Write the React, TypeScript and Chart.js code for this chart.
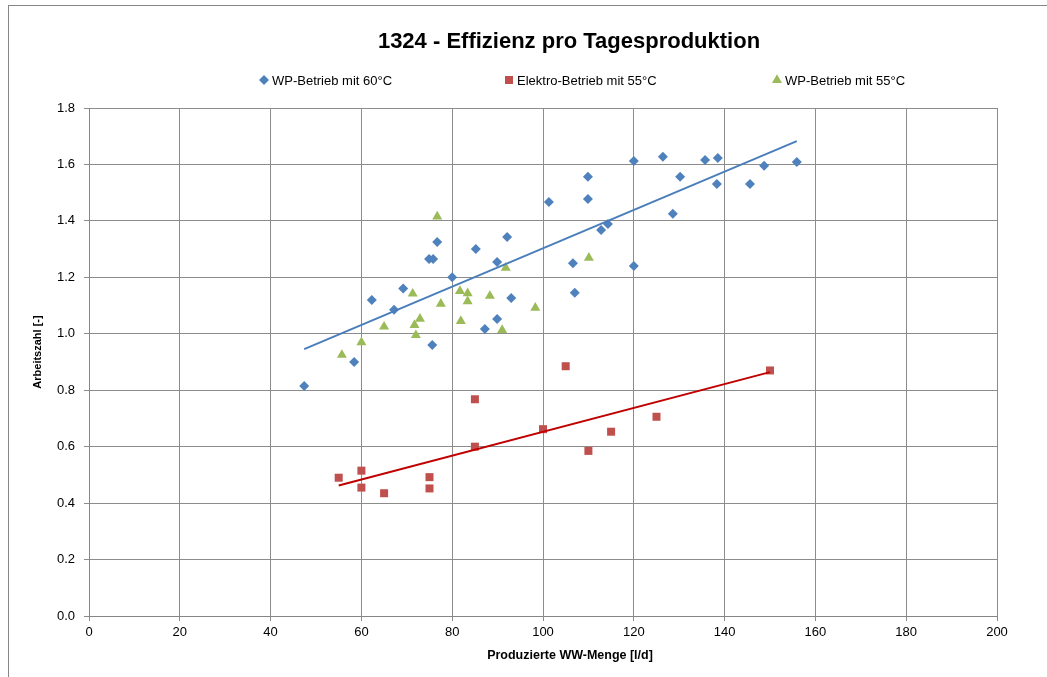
import React, { useEffect, useRef } from "react";
import { Chart, registerables } from "chart.js";

Chart.register(...registerables);

const chartTitle = "1324 - Effizienz pro Tagesproduktion";
const xAxisTitle = "Produzierte WW-Menge [l/d]";
const yAxisTitle = "Arbeitszahl [-]";
const seriesNames = ["WP-Betrieb mit 60°C", "Elektro-Betrieb mit 55°C", "WP-Betrieb mit 55°C"];

// WP-Betrieb mit 60°C
const wp60X = [47.4, 58.4, 62.3, 67.2, 69.2, 74.9, 75.8, 75.6, 76.7, 80.0, 85.2, 87.2, 89.9, 89.9, 92.1, 93.0, 101.3, 106.6, 107.0, 109.9, 109.9, 112.8, 114.3, 120.0, 120.0, 126.4, 128.6, 130.2, 135.7, 138.5, 138.3, 145.6, 148.7, 155.9];
const wp60Y = [0.815, 0.9, 1.12, 1.085, 1.16, 1.265, 1.265, 0.96, 1.325, 1.2, 1.3, 1.017, 1.254, 1.052, 1.343, 1.127, 1.467, 1.25, 1.145, 1.556, 1.478, 1.368, 1.389, 1.612, 1.24, 1.627, 1.425, 1.556, 1.616, 1.623, 1.531, 1.531, 1.595, 1.609];

// Elektro-Betrieb mit 55°C
const elX = [55, 60, 60, 65, 75, 75, 85, 85, 100, 105, 110, 115, 125, 150];
const elY = [0.49, 0.515, 0.455, 0.435, 0.492, 0.452, 0.768, 0.6, 0.662, 0.885, 0.585, 0.653, 0.706, 0.87];

// WP-Betrieb mit 55°C
const wp55X = [55.7, 60.0, 65.0, 71.3, 72.9, 71.7, 72.0, 76.7, 77.5, 81.7, 83.4, 83.4, 81.9, 88.3, 91.8, 91.0, 98.3, 110.1];
const wp55Y = [0.925, 0.97, 1.025, 1.142, 1.053, 1.031, 0.995, 1.415, 1.106, 1.151, 1.143, 1.115, 1.045, 1.134, 1.234, 1.013, 1.092, 1.269];

const xMin = 0, xMax = 200, xStep = 20;
const yMin = 0, yMax = 1.8, yStep = 0.2;

const BLUE = "#4F81BD";
const RED = "#C0504D";
const GREEN = "#9BBB59";
const BLUE_TREND = "#4A7EBB";
const RED_TREND = "#C00000";
const GRID = "#8c8c8c";
const AXIS = "#868686";
const FONT = "'Liberation Sans', Arial, sans-serif";

function pts(xs: number[], ys: number[]) {
  return xs.map((x, i) => ({ x, y: ys[i] }));
}

function trend(xs: number[], ys: number[]) {
  const n = xs.length;
  const mx = xs.reduce((a, b) => a + b, 0) / n;
  const my = ys.reduce((a, b) => a + b, 0) / n;
  let sxy = 0, sxx = 0;
  for (let i = 0; i < n; i++) {
    sxy += (xs[i] - mx) * (ys[i] - my);
    sxx += (xs[i] - mx) * (xs[i] - mx);
  }
  const b = sxy / sxx;
  const a = my - b * mx;
  const lo = Math.min(...xs), hi = Math.max(...xs);
  return [{ x: lo, y: a + b * lo }, { x: hi, y: a + b * hi }];
}

function marker(ctx: CanvasRenderingContext2D, kind: string, x: number, y: number, color: string) {
  ctx.fillStyle = color;
  ctx.beginPath();
  if (kind === "diamond") {
    const r = 5;
    ctx.moveTo(x - r, y); ctx.lineTo(x, y - r); ctx.lineTo(x + r, y); ctx.lineTo(x, y + r);
  } else if (kind === "square") {
    ctx.rect(x - 4, y - 4, 8, 8);
  } else {
    const r = 5.8;
    ctx.moveTo(x, y - r);
    ctx.lineTo(x + r * Math.sin(Math.PI / 3), y + r * 0.5);
    ctx.lineTo(x - r * Math.sin(Math.PI / 3), y + r * 0.5);
  }
  ctx.closePath();
  ctx.fill();
}

const bgPlugin = {
  id: "bgBorder",
  beforeDraw(chart: any) {
    const ctx = chart.ctx as CanvasRenderingContext2D;
    ctx.save();
    ctx.fillStyle = "#ffffff";
    ctx.fillRect(0, 0, chart.width, chart.height);
    ctx.strokeStyle = AXIS;
    ctx.lineWidth = 1;
    ctx.strokeRect(8.5, 5.5, 3000, 3000);
    ctx.restore();
  },
};

const textPlugin = {
  id: "texts",
  afterDraw(chart: any) {
    const ctx = chart.ctx as CanvasRenderingContext2D;
    ctx.save();
    ctx.fillStyle = "#000";
    ctx.textBaseline = "middle";
    ctx.textAlign = "center";
    ctx.font = `bold 22px ${FONT}`;
    ctx.fillText(chartTitle, 569, 42);

    const items = [
      { kind: "diamond", color: BLUE, x: 264 },
      { kind: "square", color: RED, x: 509 },
      { kind: "triangle", color: GREEN, x: 777 },
    ];
    ctx.font = `13px ${FONT}`;
    ctx.textAlign = "left";
    items.forEach((it, i) => {
      marker(ctx, it.kind, it.x, 80, it.color);
      ctx.fillStyle = "#000";
      ctx.fillText(seriesNames[i], it.x + 8, 81);
    });

    ctx.textAlign = "center";
    ctx.font = `bold 12.5px ${FONT}`;
    ctx.fillText(xAxisTitle, 570, 656);

    ctx.translate(38, 352);
    ctx.rotate(-Math.PI / 2);
    ctx.font = `bold 11px ${FONT}`;
    ctx.fillText(yAxisTitle, 0, 0);
    ctx.restore();
  },
};

export default function App() {
  const ref = useRef<HTMLCanvasElement>(null);
  useEffect(() => {
    const canvas = ref.current;
    if (!canvas) return;
    const chart = new Chart(canvas, {
      type: "scatter",
      data: {
        datasets: [
          {
            label: "Trend " + seriesNames[0],
            data: trend(wp60X, wp60Y),
            showLine: true,
            borderColor: BLUE_TREND,
            borderWidth: 2,
            pointRadius: 0,
            order: 0,
          },
          {
            label: "Trend " + seriesNames[1],
            data: trend(elX, elY),
            showLine: true,
            borderColor: RED_TREND,
            borderWidth: 2,
            pointRadius: 0,
            order: 0,
          },
          {
            label: seriesNames[0],
            data: pts(wp60X, wp60Y),
            pointStyle: "rectRot",
            pointRadius: 5,
            backgroundColor: BLUE,
            borderColor: BLUE,
            borderWidth: 0,
            order: 1,
          },
          {
            label: seriesNames[1],
            data: pts(elX, elY),
            pointStyle: "rect",
            pointRadius: 5.66,
            backgroundColor: RED,
            borderColor: RED,
            borderWidth: 0,
            order: 1,
          },
          {
            label: seriesNames[2],
            data: pts(wp55X, wp55Y),
            pointStyle: "triangle",
            pointRadius: 5.8,
            backgroundColor: GREEN,
            borderColor: GREEN,
            borderWidth: 0,
            order: 1,
          },
        ],
      },
      options: {
        responsive: false,
        animation: false,
        devicePixelRatio: 1,
        layout: { padding: { top: 108, right: 50, bottom: 0, left: 0 } },
        plugins: {
          legend: { display: false },
          title: { display: false },
          tooltip: { enabled: false },
        },
        scales: {
          x: {
            type: "linear",
            min: xMin,
            max: xMax,
            ticks: { stepSize: xStep, color: "#000", font: { family: FONT, size: 13 }, padding: 4, maxRotation: 0 },
            grid: { color: GRID, tickLength: 5 },
            border: { color: AXIS },
            afterFit: (s: any) => { s.height = 61; },
          },
          y: {
            type: "linear",
            min: yMin,
            max: yMax,
            ticks: {
              stepSize: yStep,
              color: "#000",
              font: { family: FONT, size: 13 },
              padding: 9,
              callback: (v: any) => Number(v).toFixed(1),
            },
            grid: { color: GRID, tickLength: 5 },
            border: { color: AXIS },
            afterFit: (s: any) => { s.width = 89; },
          },
        },
      },
      plugins: [bgPlugin, textPlugin],
    });
    return () => chart.destroy();
  }, []);

  return (
    <div style={{ position: "fixed", left: 0, top: 0, width: 1047, height: 677, overflow: "hidden", background: "#fff" }}>
      <canvas ref={ref} width={1047} height={677} style={{ display: "block" }} />
    </div>
  );
}
